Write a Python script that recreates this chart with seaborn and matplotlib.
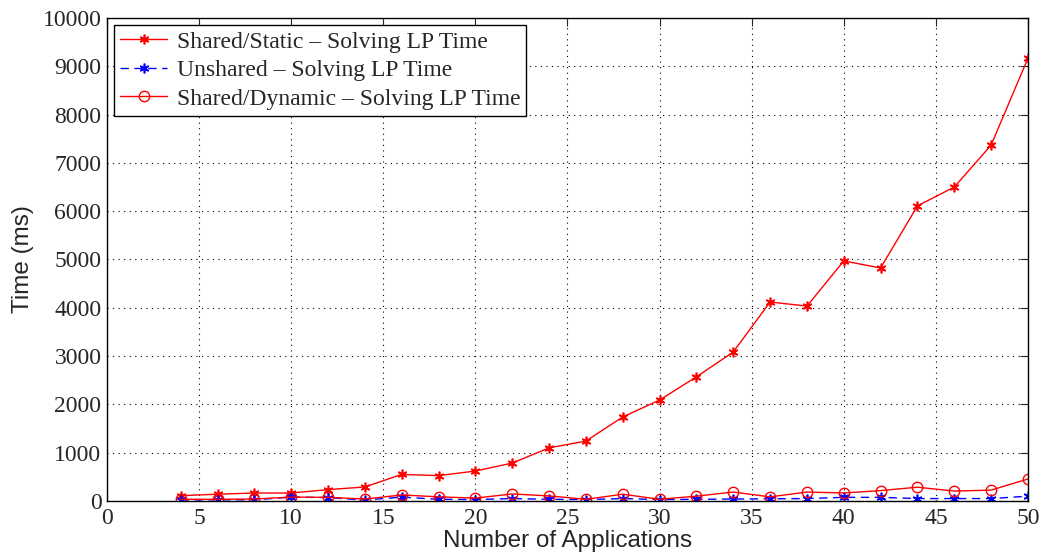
import numpy as np
import pandas as pd
import seaborn as sns
import matplotlib.pyplot as plt

# number of applications
apps = [4, 6, 8, 10, 12, 14, 16, 18, 20, 22, 24, 26, 28, 30, 32, 34, 36, 38, 40, 42, 44, 46, 48, 50]

# solving LP time (ms)
shared_static = [110, 140, 165, 165, 235, 290, 550, 525, 620, 785, 1100, 1240, 1740, 2090,
                 2570, 3085, 4120, 4035, 4970, 4825, 6110, 6500, 7370, 9170]
unshared = [20, 25, 25, 80, 70, 20, 80, 35, 30, 50, 35, 30, 50, 30,
            35, 40, 45, 50, 75, 75, 50, 50, 50, 100]
shared_dynamic = [35, 35, 40, 80, 75, 40, 125, 85, 60, 145, 105, 35, 140, 35,
                  100, 185, 85, 185, 165, 215, 285, 205, 225, 455]

sns.set_style('white')
plt.rcParams['font.family'] = ['Liberation Serif', 'DejaVu Serif']

fig = plt.figure(figsize=(10.43, 5.58), dpi=100)
ax = fig.add_axes([0.1026, 0.1022, 0.883, 0.8655])

asterisk = (6, 2, 0)
sns.lineplot(x=apps, y=shared_static, ax=ax, color='red', lw=1, marker=asterisk,
             markersize=7, markeredgewidth=1.2, markeredgecolor='red',
             label='Shared/Static – Solving LP Time')
sns.lineplot(x=apps, y=unshared, ax=ax, color='blue', lw=1, linestyle=(0, (6, 4)),
             marker=asterisk, markersize=7, markeredgewidth=1.2, markeredgecolor='blue',
             label='Unshared – Solving LP Time')
sns.lineplot(x=apps, y=shared_dynamic, ax=ax, color='red', lw=1, marker='o',
             markersize=7.5, markerfacecolor='none', markeredgecolor='red',
             markeredgewidth=1, label='Shared/Dynamic – Solving LP Time')

ax.set_xlim(0, 50)
ax.set_ylim(0, 10000)
ax.set_xticks(range(0, 51, 5))
ax.set_yticks(range(0, 10001, 1000))
ax.grid(True, linestyle=(0, (1, 4)), color='black', lw=0.8)
ax.tick_params(direction='in', length=6, labelsize=17, top=True, right=True, width=0.8)
ax.tick_params(axis='x', pad=5)
ax.tick_params(axis='y', pad=4)
for s in ax.spines.values():
    s.set_color('black')
    s.set_linewidth(1)

ax.set_xlabel('Number of Applications', fontsize=17.5, family='Liberation Sans', labelpad=1)
ax.set_ylabel('Time (ms)', fontsize=17.5, family='Liberation Sans', labelpad=6)

leg = ax.legend(loc='upper left', fontsize=17, frameon=True, fancybox=False,
                borderaxespad=0.3, handlelength=2.0, labelspacing=0.3,
                borderpad=0.25, handletextpad=0.4)
leg.get_frame().set_edgecolor('black')
leg.get_frame().set_linewidth(1)
leg.get_frame().set_alpha(1)

fig.savefig('out.png', dpi=100)
